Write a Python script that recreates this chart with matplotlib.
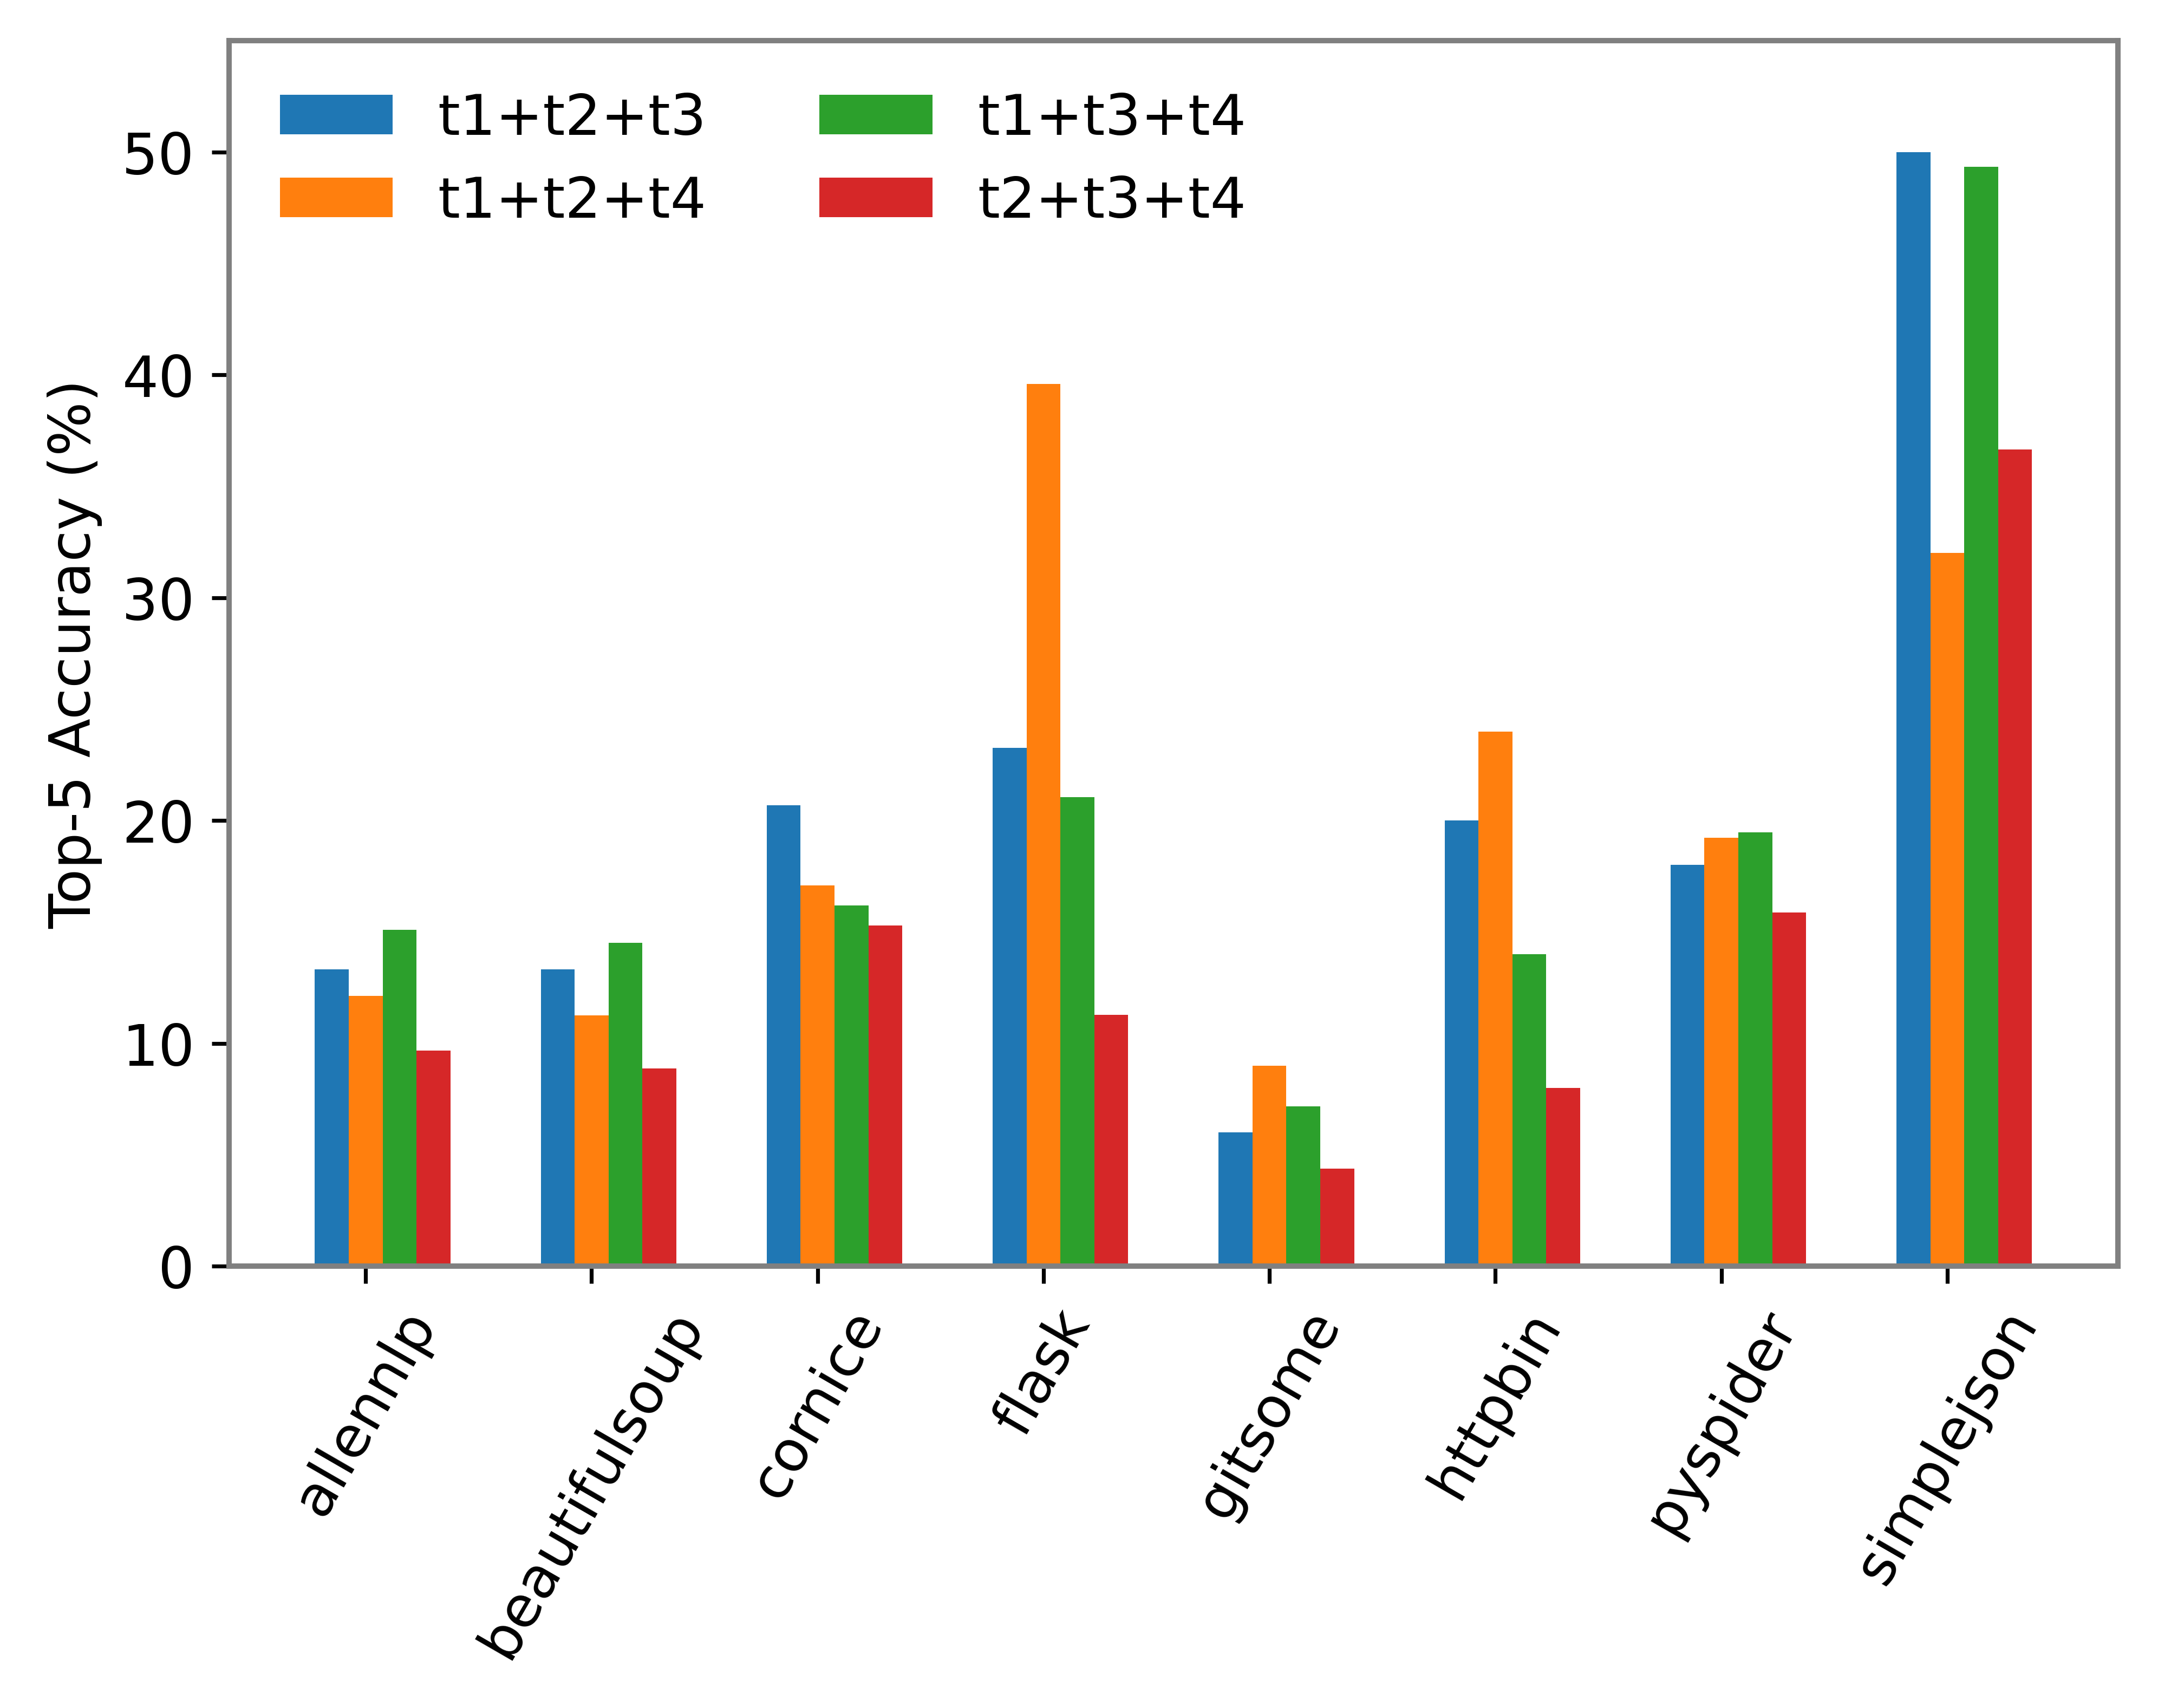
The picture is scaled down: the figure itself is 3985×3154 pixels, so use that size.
from matplotlib import pyplot as plt
import numpy as np

projects = ["allennlp", "beautifulsoup", "cornice", "flask",
            "gitsome", "httpbin", "pyspider", "simplejson"]

t123 = [13.33, 13.33, 20.69, 23.25, 6.00, 20.00, 18.02, 50.00]
t124 = [12.12, 11.26, 17.10, 39.60, 9.00, 24.00, 19.22, 32.00]
t134 = [15.10, 14.52, 16.20, 21.04, 7.17, 14.00, 19.46, 49.33]
t234 = [9.68, 8.88, 15.30, 11.28, 4.37, 8.00, 15.87, 36.64]

series = [t123, t124, t134, t234]
labels = ["t1+t2+t3", "t1+t2+t4", "t1+t3+t4", "t2+t3+t4"]

plt.rcParams["font.size"] = 11.7

fig = plt.figure(figsize=(3985 / 650, 3155 / 650), dpi=650)
ax = fig.add_axes([0.1061, 0.2586, 0.9814 - 0.1061, 0.9759 - 0.2586])

x = np.arange(len(projects))
w = 0.15
for i in range(len(series)):
    ax.bar(x + (i - 1) * w, series[i], w, label=labels[i])

ax.set_xticks(x)
ax.set_xticklabels(projects, rotation=60)
ax.set_ylabel("Top-5 Accuracy (%)")
ax.set_ylim(0, 55)

for s in ax.spines.values():
    s.set_color("gray")
    s.set_linewidth(1.1)

ax.legend(loc="upper left", ncol=2, frameon=False, fontsize=11.55)

fig.savefig("out.png", dpi=650)
